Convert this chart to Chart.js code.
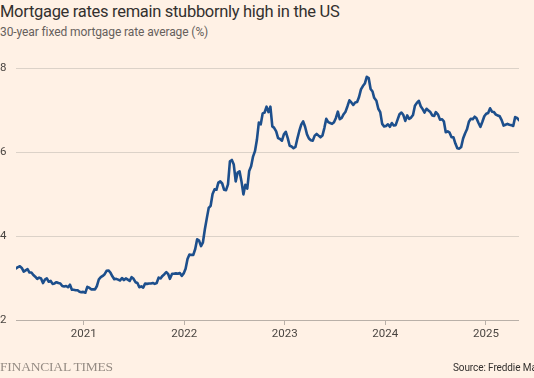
<!DOCTYPE html>
<html>
<head>
<meta charset="utf-8">
<script src="https://cdn.jsdelivr.net/npm/chart.js@4.4.1/dist/chart.umd.min.js"></script>
<style>
  html, body { margin: 0; padding: 0; background: #fff1e5; }
  body { width: 534px; height: 378px; position: relative; overflow: hidden; font-family: Roboto, "Open Sans", sans-serif; }
  #title { position: absolute; left: 0; top: 2px; font-size: 16.5px; color: #33302e; white-space: nowrap; letter-spacing: -0.3px; }
  #subtitle { position: absolute; left: 0; top: 25px; font-size: 12px; color: #66605c; white-space: nowrap; letter-spacing: -0.1px; }
  #ft { position: absolute; left: 0; top: 359px; font-family: "Liberation Serif", "DejaVu Serif", serif; font-size: 13.5px; color: #968c84; white-space: nowrap; letter-spacing: -0.2px; }
  #source { position: absolute; left: 453px; top: 362px; font-size: 10px; color: #33302e; white-space: nowrap; letter-spacing: -0.1px; }
  #wrap { position: absolute; left: 0; top: 0; width: 534px; height: 378px; }
</style>
</head>
<body>
<div id="title">Mortgage rates remain stubbornly high in the US</div>
<div id="subtitle">30-year fixed mortgage rate average (%)</div>
<div id="wrap"><canvas id="c" width="534" height="378"></canvas></div>
<div id="ft">FINANCIAL TIMES</div>
<div id="source">Source: Freddie Mac</div>
<script>
// Weekly Freddie Mac 30-year fixed rate
const weekDates = [
  // 2020
  "2020-04-30","2020-05-07","2020-05-14","2020-05-21","2020-05-28","2020-06-04","2020-06-11","2020-06-18","2020-06-25",
  "2020-07-02","2020-07-09","2020-07-16","2020-07-23","2020-07-30","2020-08-06","2020-08-13","2020-08-20","2020-08-27",
  "2020-09-03","2020-09-10","2020-09-17","2020-09-24","2020-10-01","2020-10-08","2020-10-15","2020-10-22","2020-10-29",
  "2020-11-05","2020-11-12","2020-11-19","2020-11-25","2020-12-03","2020-12-10","2020-12-17","2020-12-23","2020-12-30",
  // 2021
  "2021-01-07","2021-01-14","2021-01-21","2021-01-28","2021-02-04","2021-02-11","2021-02-18","2021-02-25",
  "2021-03-04","2021-03-11","2021-03-18","2021-03-25","2021-04-01","2021-04-08","2021-04-15","2021-04-22","2021-04-29",
  "2021-05-06","2021-05-13","2021-05-20","2021-05-27","2021-06-03","2021-06-10","2021-06-17","2021-06-24",
  "2021-07-01","2021-07-08","2021-07-15","2021-07-22","2021-07-29","2021-08-05","2021-08-12","2021-08-19","2021-08-26",
  "2021-09-02","2021-09-09","2021-09-16","2021-09-23","2021-09-30","2021-10-07","2021-10-14","2021-10-21","2021-10-28",
  "2021-11-04","2021-11-10","2021-11-18","2021-11-24","2021-12-02","2021-12-09","2021-12-16","2021-12-23","2021-12-30",
  // 2022
  "2022-01-06","2022-01-13","2022-01-20","2022-01-27","2022-02-03","2022-02-10","2022-02-17","2022-02-24",
  "2022-03-03","2022-03-10","2022-03-17","2022-03-24","2022-03-31","2022-04-07","2022-04-14","2022-04-21","2022-04-28",
  "2022-05-05","2022-05-12","2022-05-19","2022-05-26","2022-06-02","2022-06-09","2022-06-16","2022-06-23","2022-06-30",
  "2022-07-07","2022-07-14","2022-07-21","2022-07-28","2022-08-04","2022-08-11","2022-08-18","2022-08-25",
  "2022-09-01","2022-09-08","2022-09-15","2022-09-22","2022-09-29","2022-10-06","2022-10-13","2022-10-20","2022-10-27",
  "2022-11-03","2022-11-10","2022-11-17","2022-11-23","2022-12-01","2022-12-08","2022-12-15","2022-12-22","2022-12-29",
  // 2023
  "2023-01-05","2023-01-12","2023-01-19","2023-01-26","2023-02-02","2023-02-09","2023-02-16","2023-02-23",
  "2023-03-02","2023-03-09","2023-03-16","2023-03-23","2023-03-30","2023-04-06","2023-04-13","2023-04-20","2023-04-27",
  "2023-05-04","2023-05-11","2023-05-18","2023-05-25","2023-06-01","2023-06-08","2023-06-15","2023-06-22","2023-06-29",
  "2023-07-06","2023-07-13","2023-07-20","2023-07-27","2023-08-03","2023-08-10","2023-08-17","2023-08-24","2023-08-31",
  "2023-09-07","2023-09-14","2023-09-21","2023-09-28","2023-10-05","2023-10-12","2023-10-19","2023-10-26",
  "2023-11-02","2023-11-09","2023-11-16","2023-11-22","2023-11-30","2023-12-07","2023-12-14","2023-12-21","2023-12-28",
  // 2024
  "2024-01-04","2024-01-11","2024-01-18","2024-01-25","2024-02-01","2024-02-08","2024-02-15","2024-02-22","2024-02-29",
  "2024-03-07","2024-03-14","2024-03-21","2024-03-28","2024-04-04","2024-04-11","2024-04-18","2024-04-25",
  "2024-05-02","2024-05-09","2024-05-16","2024-05-23","2024-05-30","2024-06-06","2024-06-13","2024-06-20","2024-06-27",
  "2024-07-03","2024-07-11","2024-07-18","2024-07-25","2024-08-01","2024-08-08","2024-08-15","2024-08-22","2024-08-29",
  "2024-09-05","2024-09-12","2024-09-19","2024-09-26","2024-10-03","2024-10-10","2024-10-17","2024-10-24","2024-10-31",
  "2024-11-07","2024-11-14","2024-11-21","2024-11-27","2024-12-05","2024-12-12","2024-12-19","2024-12-26",
  // 2025
  "2025-01-02","2025-01-09","2025-01-16","2025-01-23","2025-01-30","2025-02-06","2025-02-13","2025-02-20","2025-02-27",
  "2025-03-06","2025-03-13","2025-03-20","2025-03-27","2025-04-03","2025-04-10","2025-04-17","2025-04-24","2025-05-01"
];
const mortgageRate = [
  // 2020
  3.23,3.26,3.28,3.24,3.15,3.18,3.21,3.13,3.13,
  3.07,3.03,2.98,3.01,2.99,2.88,2.96,2.99,2.91,
  2.93,2.86,2.87,2.90,2.88,2.87,2.81,2.80,2.81,
  2.78,2.84,2.72,2.72,2.71,2.71,2.67,2.66,2.67,
  // 2021
  2.65,2.79,2.77,2.73,2.73,2.73,2.81,2.97,
  3.02,3.05,3.09,3.17,3.18,3.13,3.04,2.97,2.98,
  2.96,2.94,3.00,2.95,2.99,2.96,2.93,3.02,
  2.98,2.90,2.88,2.78,2.80,2.77,2.87,2.86,2.87,
  2.87,2.88,2.86,2.88,3.01,2.99,3.05,3.09,3.14,
  3.09,2.98,3.10,3.10,3.11,3.10,3.12,3.05,3.11,
  // 2022
  3.22,3.45,3.56,3.55,3.55,3.69,3.92,3.89,
  3.76,3.85,4.16,4.42,4.67,4.72,5.00,5.11,5.10,
  5.27,5.30,5.25,5.10,5.09,5.23,5.78,5.81,5.70,
  5.30,5.51,5.54,5.30,4.99,5.22,5.13,5.55,
  5.66,5.89,6.02,6.29,6.70,6.66,6.92,6.94,7.08,
  6.95,7.08,6.61,6.58,6.49,6.33,6.31,6.27,6.42,
  // 2023
  6.48,6.33,6.15,6.13,6.09,6.12,6.32,6.50,
  6.65,6.73,6.60,6.42,6.32,6.28,6.27,6.39,6.43,
  6.39,6.35,6.39,6.57,6.79,6.71,6.69,6.67,6.71,
  6.81,6.96,6.78,6.81,6.90,6.96,7.09,7.23,7.18,
  7.12,7.18,7.19,7.31,7.49,7.57,7.63,7.79,
  7.76,7.50,7.44,7.29,7.22,7.03,6.95,6.67,6.61,
  // 2024
  6.62,6.66,6.60,6.69,6.63,6.64,6.77,6.90,6.94,
  6.88,6.74,6.87,6.79,6.82,6.88,7.10,7.17,
  7.22,7.09,7.02,6.94,7.03,6.99,6.95,6.87,6.86,
  6.95,6.89,6.77,6.78,6.73,6.47,6.49,6.46,6.35,
  6.35,6.20,6.09,6.08,6.12,6.32,6.44,6.54,6.72,
  6.79,6.78,6.84,6.81,6.69,6.60,6.72,6.85,
  // 2025
  6.91,6.93,7.04,6.96,6.95,6.89,6.87,6.85,6.76,
  6.63,6.65,6.67,6.65,6.64,6.62,6.83,6.81,6.76
];
const yearTicks = [2021, 2022, 2023, 2024, 2025];
const yTicks = [2, 4, 6, 8];

const toTs = s => Date.parse(s + "T00:00:00Z");
const points = weekDates.map((d, i) => ({ x: toTs(d), y: mortgageRate[i] }));

new Chart(document.getElementById('c'), {
  type: 'line',
  data: {
    datasets: [{
      data: points,
      borderColor: '#1d4f8c',
      borderWidth: 2.6,
      pointRadius: 0,
      tension: 0,
      borderJoinStyle: 'round',
      borderCapStyle: 'round',
      fill: false
    }]
  },
  options: {
    responsive: false,
    animation: false,
    devicePixelRatio: 1,
    layout: { padding: { left: 0, right: 15, top: 68, bottom: 33 } },
    plugins: { legend: { display: false }, tooltip: { enabled: false } },
    scales: {
      x: {
        type: 'linear',
        min: toTs(weekDates[0]),
        max: toTs(weekDates[weekDates.length - 1]),
        afterBuildTicks: s => { s.ticks = yearTicks.map(y => ({ value: Date.UTC(y, 0, 1), label: String(y) })); },
        afterFit: s => { s.height = 25; },
        border: { display: false },
        grid: { drawOnChartArea: false, drawTicks: true, tickLength: 5, color: '#b9b0a8', lineWidth: 1 },
        ticks: {
          autoSkip: false, maxRotation: 0, padding: 2,
          color: '#4a4541', font: { family: 'Roboto, "Open Sans", sans-serif', size: 11.5 },
          callback: (v) => String(new Date(v).getUTCFullYear())
        }
      },
      y: {
        min: 2, max: 8,
        afterBuildTicks: s => { s.ticks = yTicks.map(v => ({ value: v })); },
        afterFit: s => { s.width = 16; },
        border: { display: false },
        grid: {
          drawTicks: false,
          color: ctx => (ctx.tick && ctx.tick.value === 2) ? '#b9b0a8' : '#dcd2c8',
          lineWidth: 1
        },
        ticks: {
          padding: 0, crossAlign: 'far',
          color: '#4a4541', font: { family: 'Roboto, "Open Sans", sans-serif', size: 11.5 },
          callback: v => String(v)
        }
      }
    }
  }
});
</script>
</body>
</html>
